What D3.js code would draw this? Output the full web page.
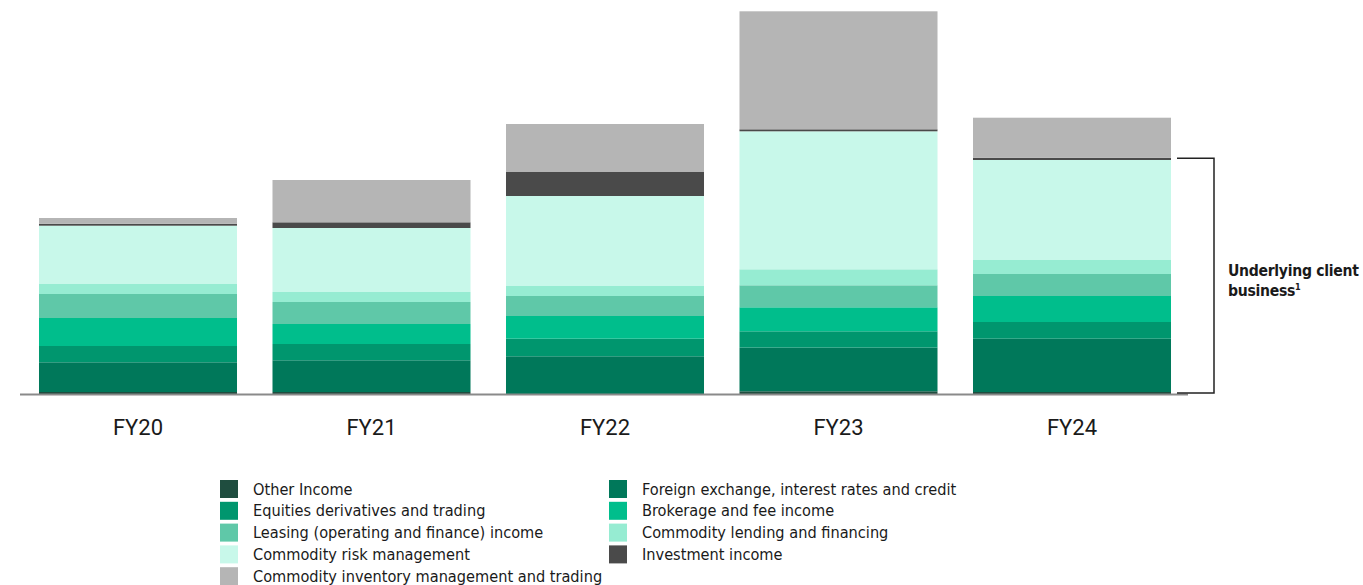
<!DOCTYPE html>
<html>
<head>
<meta charset="utf-8">
<script src="https://cdn.jsdelivr.net/npm/d3@7"></script>
<style>
  body { margin: 0; background: #fff; }
  svg text { font-family: "Liberation Sans Narrow", "DejaVu Sans Condensed", sans-serif; fill: #1a1a1a; }
</style>
</head>
<body>
<svg id="chart" width="1363" height="585"></svg>
<script>
// categories and series (stack order bottom -> top)
var years = ["FY20", "FY21", "FY22", "FY23", "FY24"];

var series = [
  "Other Income",
  "Foreign exchange, interest rates and credit",
  "Equities derivatives and trading",
  "Brokerage and fee income",
  "Leasing (operating and finance) income",
  "Commodity lending and financing",
  "Commodity risk management",
  "Investment income",
  "Commodity inventory management and trading"
];

var otherIncome  = [2, 2, 0, 2.7, 2];
var fxRates      = [29.7, 31.7, 37.7, 43.7, 53.3];
var equities     = [16.3, 16.3, 17.6, 16.3, 16.7];
var brokerage    = [28, 20, 22.7, 24, 26];
var leasing      = [24, 22, 20, 22, 22];
var lending      = [10, 10, 10, 16, 14];
var riskMgmt     = [58.3, 64, 90, 138, 100];
var investment   = [2, 5.7, 24, 2, 2.3];
var inventory    = [5.7, 42.3, 48, 118, 40];

var colors = ["#1f4d3f", "#00785a", "#00966e", "#00be8c", "#5fc8a8",
              "#96ecd2", "#c8f8ea", "#4a4a4a", "#b5b5b5"];

// legend layout: two columns
var legendLeft  = [0, 2, 4, 6, 8];
var legendRight = [1, 3, 5, 7];

var svg = d3.select("#chart");

var allValues = [otherIncome, fxRates, equities, brokerage, leasing, lending, riskMgmt, investment, inventory];

var rows = years.map(function(y, i) {
  var r = {year: y};
  series.forEach(function(s, k) { r[s] = allValues[k][i]; });
  return r;
});

var stacked = d3.stack().keys(series)(rows);

var x = d3.scaleBand()
  .domain(years)
  .range([21.25, 1188.75])
  .paddingInner(0.152)
  .paddingOuter(0.076);

var y = d3.scaleLinear()
  .domain([0, 382])
  .range([394, 12]);

var color = d3.scaleOrdinal().domain(series).range(colors);

// bars
svg.append("g").selectAll("g")
  .data(stacked)
  .enter().append("g")
  .attr("fill", function(d) { return color(d.key); })
  .selectAll("rect")
  .data(function(d) { return d; })
  .enter().append("rect")
  .attr("x", function(d) { return x(d.data.year); })
  .attr("y", function(d) { return y(d[1]); })
  .attr("width", x.bandwidth())
  .attr("height", function(d) { return y(d[0]) - y(d[1]); });

// baseline
svg.append("line")
  .attr("x1", 20).attr("x2", 1188)
  .attr("y1", y(0) + 0.5).attr("y2", y(0) + 0.5)
  .attr("stroke", "#8a8a8a")
  .attr("stroke-width", 2);

// x axis labels
var xAxis = d3.axisBottom(x).tickSize(0).tickPadding(0);
var gx = svg.append("g")
  .attr("transform", "translate(0," + 419 + ")")
  .call(xAxis);
gx.select(".domain").remove();
gx.selectAll("text")
  .attr("dy", "0.71em")
  .style("font-family", "Roboto, 'Liberation Sans', sans-serif")
  .style("font-size", "22px")
  .attr("fill", "#1a1a1a");

// bracket for underlying client business (FY24 up to investment income)
var last = years.length - 1;
var bracketTop = y(d3.sum(allValues.slice(0, 8), function(v) { return v[last]; })) + 0.5;
var bracketBottom = y(1);
var bx0 = x(years[last]) + x.bandwidth() + 6;
var bx1 = 1214;
svg.append("path")
  .attr("d", "M" + bx0 + "," + bracketTop + "H" + bx1 + "V" + bracketBottom + "H" + bx0)
  .attr("fill", "none")
  .attr("stroke", "#222")
  .attr("stroke-width", 1.5);

var lbl = svg.append("text")
  .attr("x", 1228)
  .attr("y", 276)
  .style("font-size", "15.6px")
  .style("font-weight", "bold")
  .style("letter-spacing", "-0.3px");
lbl.append("tspan").text("Underlying client");
lbl.append("tspan").attr("x", 1228).attr("dy", 20).text("business");
lbl.append("tspan").attr("dy", -6).style("font-size", "9px").text("1");

// legend
function drawLegend(idx, lx) {
  var g = svg.append("g").selectAll("g")
    .data(idx)
    .enter().append("g")
    .attr("transform", function(d, i) { return "translate(" + lx + "," + (480 + i * 21.8) + ")"; });
  g.append("rect")
    .attr("width", 18).attr("height", 18)
    .attr("fill", function(d) { return colors[d]; });
  g.append("text")
    .attr("x", 33)
    .attr("y", 9)
    .attr("dy", "0.35em")
    .style("font-size", "16.2px")
    .text(function(d) { return series[d]; });
}
drawLegend(legendLeft, 220);
drawLegend(legendRight, 609);
</script>
</body>
</html>
